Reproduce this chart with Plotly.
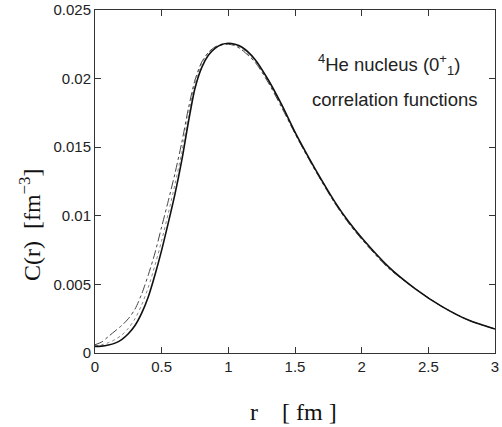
import plotly.graph_objects as go

r = [0, 0.05, 0.1, 0.15, 0.2, 0.25, 0.3, 0.35, 0.4, 0.45, 0.5, 0.55, 0.6, 0.65, 0.7,
     0.75, 0.8, 0.85, 0.9, 0.95, 1.0, 1.05, 1.1, 1.2, 1.3, 1.4, 1.5, 1.6, 1.7, 1.8,
     1.9, 2.0, 2.2, 2.4, 2.6, 2.8, 3.0]

c_solid = [0.00048, 0.00050, 0.00058, 0.00072, 0.00098, 0.0014, 0.0020, 0.0029, 0.0041,
           0.0057, 0.0075, 0.0095, 0.0116, 0.0140, 0.0168, 0.0193, 0.0208, 0.0217, 0.0222,
           0.02248, 0.02258, 0.02250, 0.0223, 0.0214, 0.0199, 0.0181, 0.0161, 0.0143,
           0.0126, 0.0110, 0.0096, 0.0084, 0.0063, 0.0047, 0.0034, 0.0024, 0.00175]

c_dashdot = [0.0006, 0.0008, 0.0012, 0.0016, 0.0020, 0.0025, 0.0032, 0.0043, 0.0057,
             0.0073, 0.0092, 0.0111, 0.0131, 0.0153, 0.0178, 0.0199, 0.0212, 0.0219, 0.0223,
             0.02245, 0.0225, 0.0224, 0.0221, 0.0212, 0.0197, 0.0179, 0.0160, 0.0142,
             0.0125, 0.0109, 0.0095, 0.0083, 0.0062, 0.0047, 0.0034, 0.0024, 0.00175]

c_dotted = [0.00052, 0.00060, 0.00075, 0.00098, 0.0013, 0.0018, 0.0025, 0.0035, 0.0048,
            0.0064, 0.0082, 0.0102, 0.0123, 0.0146, 0.0173, 0.0197, 0.0211, 0.0219, 0.0223,
            0.02250, 0.02256, 0.02246, 0.0222, 0.0213, 0.0198, 0.0180, 0.0160, 0.0142,
            0.0125, 0.0109, 0.0095, 0.0083, 0.0062, 0.0047, 0.0034, 0.0024, 0.00175]

x_ticks = [0, 0.5, 1, 1.5, 2, 2.5, 3]
x_ticktext = ["0", "0.5", "1", "1.5", "2", "2.5", "3"]
y_ticks = [0, 0.005, 0.01, 0.015, 0.02, 0.025]
y_ticktext = ["0", "0.005", "0.01", "0.015", "0.02", "0.025"]

fig = go.Figure()
fig.add_trace(go.Scatter(x=r, y=c_dotted, mode="lines", line=dict(color="#888888", width=1, dash="dot", shape="spline", smoothing=0.8)))
fig.add_trace(go.Scatter(x=r, y=c_dashdot, mode="lines", line=dict(color="#444444", width=1, dash="dashdot", shape="spline", smoothing=0.8)))
fig.add_trace(go.Scatter(x=r, y=c_solid, mode="lines", line=dict(color="#111111", width=1.6, shape="spline", smoothing=0.8)))

axis_common = dict(showline=True, linecolor="#333333", linewidth=1, mirror="ticks",
                   ticks="inside", ticklen=6, tickcolor="#333333", showgrid=False, zeroline=False,
                   automargin=False, ticklabeloverflow="allow",
                   tickfont=dict(family="Liberation Sans, Arial", size=15, color="#222222"))

label_font = dict(family="Liberation Serif, Times New Roman", size=24, color="#111111")
note_font = dict(family="Liberation Sans, Arial", size=18.5, color="#222222")

fig.update_layout(
    width=502, height=427,
    margin=dict(l=95, r=7, t=10, b=74),
    paper_bgcolor="white", plot_bgcolor="white",
    showlegend=False,
    xaxis=dict(range=[0, 3], tickvals=x_ticks, ticktext=x_ticktext, **axis_common),
    yaxis=dict(range=[0, 0.025], tickvals=y_ticks, ticktext=y_ticktext, **axis_common),
    annotations=[
        dict(x=0.735, y=0.842, xref="paper", yref="paper", showarrow=False,
             xanchor="center", yanchor="middle",
             text="<sup>4</sup>He nucleus (0<sup>+</sup><sub>1</sub>)", font=note_font),
        dict(x=0.75, y=0.74, xref="paper", yref="paper", showarrow=False,
             xanchor="center", yanchor="middle",
             text="correlation functions", font=note_font),
        dict(x=-0.1625, y=0.373, xref="paper", yref="paper", showarrow=False,
             xanchor="center", yanchor="middle", textangle=-90,
             text="C(r)  [fm<sup>−3</sup>]", font=label_font),
        dict(x=0.495, y=-0.172, xref="paper", yref="paper", showarrow=False,
             xanchor="center", yanchor="middle",
             text="r    [ fm ]", font=label_font),
    ],
)

fig.write_html("out.html", config={"displayModeBar": False},
               post_script="document.body.style.margin='0';document.body.style.overflow='hidden';")
